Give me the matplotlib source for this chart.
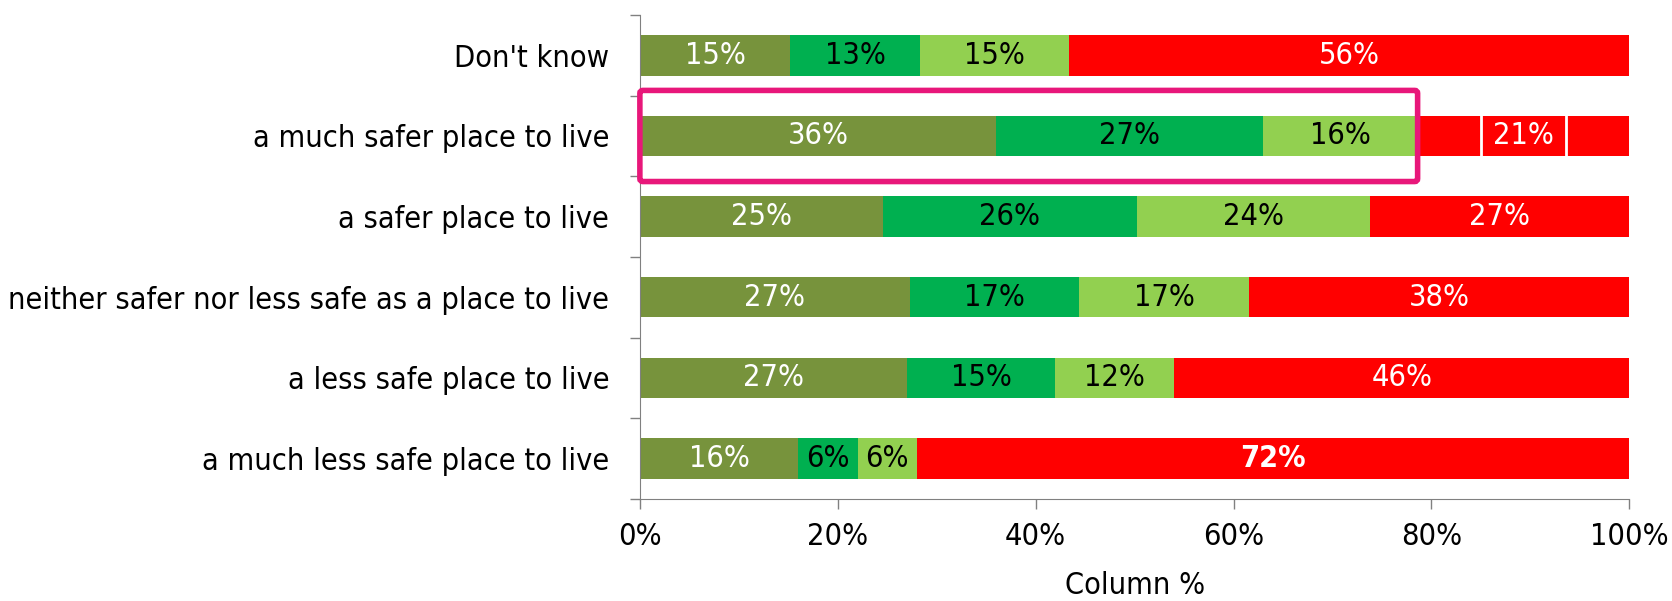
import matplotlib
matplotlib.use("Agg")
import matplotlib.pyplot as plt
from matplotlib.patches import FancyBboxPatch
import numpy as np

categories = ["Don't know", "a much safer place to live", "a safer place to live",
              "neither safer nor less safe as a place to live",
              "a less safe place to live", "a much less safe place to live"]
seg1 = [15.2, 36.0, 24.6, 27.3, 27.0, 16.0]
seg2 = [13.1, 27.0, 25.6, 17.1, 15.0, 6.0]
seg3 = [15.1, 15.6, 23.6, 17.2, 12.0, 6.0]
seg4 = [56.6, 21.4, 26.2, 38.4, 46.0, 72.0]
labels1 = ["15%", "36%", "25%", "27%", "27%", "16%"]
labels2 = ["13%", "27%", "26%", "17%", "15%", "6%"]
labels3 = ["15%", "16%", "24%", "17%", "12%", "6%"]
labels4 = ["56%", "21%", "27%", "38%", "46%", "72%"]
xticks = [0, 20, 40, 60, 80, 100]
xticklabels = ["0%", "20%", "40%", "60%", "80%", "100%"]

colors = ["#77933C", "#00B050", "#92D050", "#FF0000"]
text_colors = ["white", "black", "black", "white"]

plt.rcParams['font.family'] = ['DejaVu Sans']
plt.rcParams['font.stretch'] = 'condensed'
FS = 22

fig = plt.figure(figsize=(16.72, 6.01), dpi=100)
ax = fig.add_axes([0.3827, 0.170, 0.9745 - 0.3827, 0.805])

n = len(categories)
y = np.arange(n)[::-1]  # first category at top
segs = [seg1, seg2, seg3, seg4]
labs = [labels1, labels2, labels3, labels4]
left = np.zeros(n)
for k in range(4):
    vals = np.array(segs[k])
    ax.barh(y, vals, left=left, height=0.5, color=colors[k], edgecolor='none')
    for i in range(n):
        cx = left[i] + vals[i] / 2
        weight = 'bold' if (k == 3 and labs[k][i] == "72%") else 'normal'
        kw = {}
        if k == 3 and i == 1:
            kw['bbox'] = dict(boxstyle='square,pad=0.4', fc='none', ec='white', lw=2)
        ax.text(cx, y[i], labs[k][i], ha='center', va='center', color=text_colors[k],
                fontsize=FS, fontweight=weight, **kw)
    left = left + vals

# highlight box around first three segments of "a much safer place to live"
hi = 1
w = seg1[hi] + seg2[hi] + seg3[hi]
rect = FancyBboxPatch((0, y[hi] - 0.5 * 1.13), w, 1.13,
                      boxstyle='round,pad=0,rounding_size=0.3',
                      mutation_aspect=0.12,
                      fc='none', ec='#E8177A', lw=4, clip_on=False, zorder=5)
ax.add_patch(rect)

ax.set_xlim(0, 100)
ax.set_ylim(-0.5, n - 0.5)
ax.set_xticks(xticks)
ax.set_xticklabels(xticklabels, fontsize=FS)
ax.set_yticks(y)
ax.set_yticklabels(categories, fontsize=FS)
ax.tick_params(axis='y', which='major', length=0, pad=22)
ax.set_yticks(np.arange(-0.5, n, 1.0), minor=True)
ax.tick_params(axis='y', which='minor', length=7, color='#808080', width=1)
ax.tick_params(axis='x', length=7, color='#808080', width=1, pad=10)
for s in ['top', 'right']:
    ax.spines[s].set_visible(False)
for s in ['left', 'bottom']:
    ax.spines[s].set_color('#808080')
ax.set_xlabel("Column %", fontsize=FS, labelpad=14)

fig.savefig("out.png", dpi=100)
